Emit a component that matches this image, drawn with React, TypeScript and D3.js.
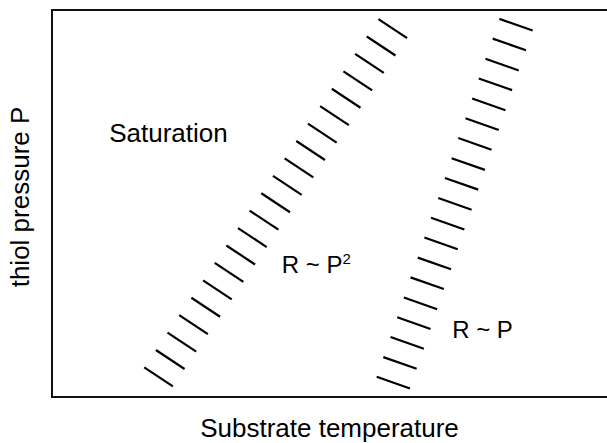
import { useEffect, useRef } from 'react';
import * as d3 from 'd3';

// hatch centres of the two boundaries, in plot units (0-100 both axes)
const p2HatchX = [61.4, 59.3, 57.2, 55.1, 53.0, 50.9, 48.7, 46.6, 44.5, 42.4, 40.3, 38.2, 36.1, 34.0, 31.9, 29.8, 27.7, 25.5, 23.4, 21.3, 19.2];
const p2HatchY = [95.2, 90.7, 86.2, 81.7, 77.2, 72.7, 68.2, 63.7, 59.2, 54.7, 50.2, 45.7, 41.2, 36.7, 32.2, 27.7, 23.2, 18.7, 14.2, 9.7, 5.2];
const pHatchX = [83.6, 82.4, 81.1, 79.9, 78.7, 77.5, 76.2, 75.0, 73.8, 72.6, 71.3, 70.1, 68.9, 67.6, 66.4, 65.2, 64.0, 62.7, 61.5];
const pHatchY = [96.2, 91.1, 85.9, 80.8, 75.6, 70.5, 65.4, 60.2, 55.1, 49.9, 44.8, 39.7, 34.5, 29.4, 24.2, 19.1, 14.0, 8.8, 3.7];

const regionLabels = ['Saturation', 'R ~ P', 'R ~ P'];
const regionSup = ['', '2', ''];
const regionX = [10.3, 41.4, 72.1];
const regionY = [65.9, 32.0, 15.2];

const xTitle = 'Substrate temperature';
const yTitle = 'thiol pressure P';

export default function App() {
  const ref = useRef<SVGSVGElement>(null);

  useEffect(() => {
    const svg = d3.select(ref.current);
    svg.selectAll('*').remove();
    const W = 607, H = 443;
    const margin = { top: 10, right: 0, bottom: 46, left: 52 };
    const font = '"Liberation Sans", Arial, sans-serif';

    const x = d3.scaleLinear().domain([0, 100]).range([margin.left, W - margin.right]);
    const y = d3.scaleLinear().domain([0, 100]).range([H - margin.bottom, margin.top]);

    // frame: top, left, bottom (right side runs off the image)
    const frame = svg.append('g').attr('stroke', '#111').attr('stroke-width', 2);
    frame.append('line').attr('x1', x(0)).attr('x2', x(100) + 2).attr('y1', y(100)).attr('y2', y(100));
    frame.append('line').attr('x1', x(0)).attr('x2', x(0)).attr('y1', y(100) - 1).attr('y2', y(0) + 1);
    frame.append('line').attr('x1', x(0)).attr('x2', x(100) + 2).attr('y1', y(0)).attr('y2', y(0));

    const bands = [
      { xs: p2HatchX, ys: p2HatchY, dx: 28.7, dy: 19 },
      { xs: pHatchX, ys: pHatchY, dx: 33.3, dy: 11.7 },
    ];
    bands.forEach(b => {
      const pts = b.xs.map((v, i) => [v, b.ys[i]] as [number, number]);
      svg.append('g').selectAll('line').data(pts).enter().append('line')
        .attr('x1', d => x(d[0]) - b.dx / 2).attr('y1', d => y(d[1]) - b.dy / 2)
        .attr('x2', d => x(d[0]) + b.dx / 2).attr('y2', d => y(d[1]) + b.dy / 2)
        .attr('stroke', '#000').attr('stroke-width', 2.2).attr('stroke-linecap', 'butt');
    });

    regionLabels.forEach((t, i) => {
      const txt = svg.append('text').attr('x', x(regionX[i])).attr('y', y(regionY[i]))
        .attr('font-family', font).attr('font-size', i === 0 ? 26 : 24).attr('fill', '#000').text(t);
      if (regionSup[i]) {
        txt.append('tspan').attr('font-size', 15).attr('dy', -9).text(regionSup[i]);
      }
    });

    svg.append('text').attr('x', (x(0) + x(100)) / 2).attr('y', 437)
      .attr('text-anchor', 'middle').attr('font-family', font).attr('font-size', 26).attr('fill', '#000')
      .text(xTitle);

    svg.append('text').attr('transform', `translate(29,197) rotate(-90)`)
      .attr('text-anchor', 'middle').attr('font-family', font).attr('font-size', 26).attr('fill', '#000')
      .text(yTitle);
  }, []);

  return (
    <div style={{ position: 'fixed', left: 0, top: 0 }}>
      <svg ref={ref} width={607} height={443} style={{ display: 'block', background: '#fff' }} />
    </div>
  );
}
